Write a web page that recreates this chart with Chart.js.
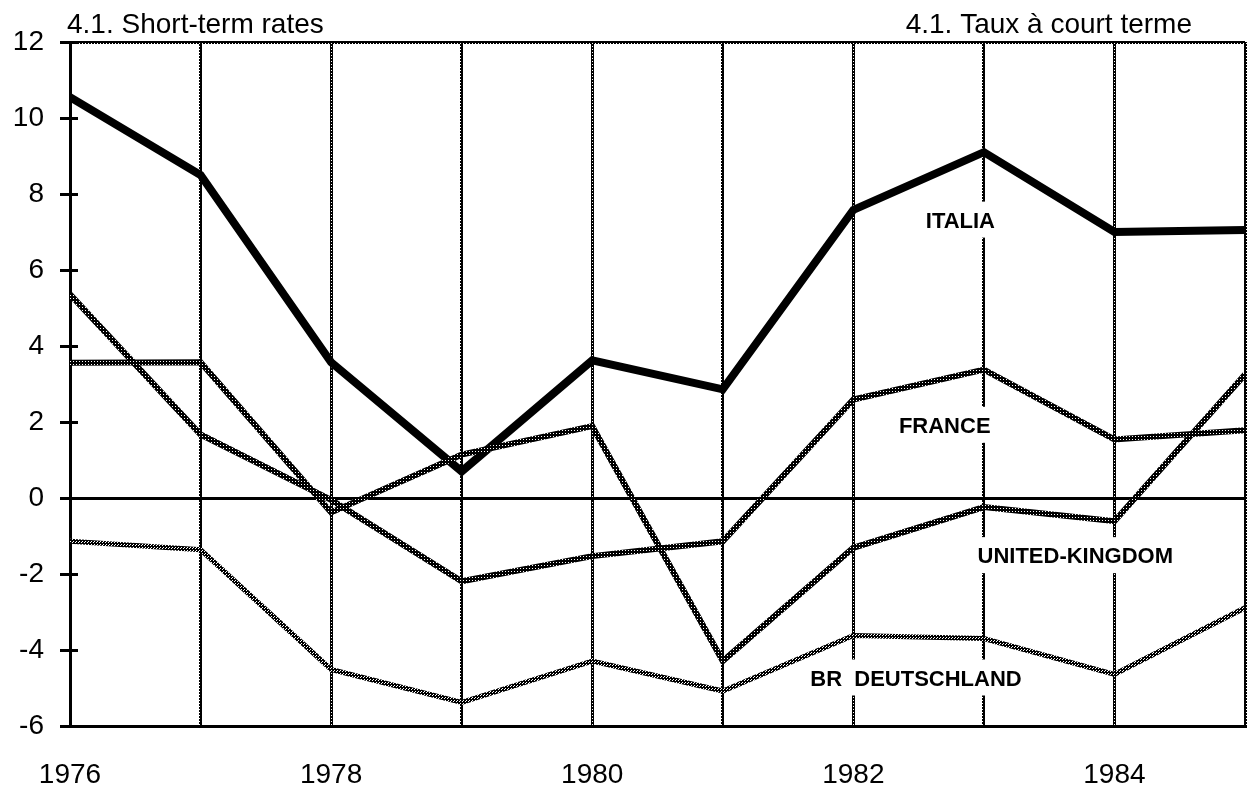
<!DOCTYPE html>
<html>
<head>
<meta charset="utf-8">
<script src="https://cdn.jsdelivr.net/npm/chart.js@4.4.1/dist/chart.umd.min.js"></script>
<style>
html,body{margin:0;padding:0;background:#fff;}
canvas{display:block;}
</style>
</head>
<body>
<canvas id="c" width="1248" height="792"></canvas>
<script>
// ---- data ----
const years = [1976, 1977, 1978, 1979, 1980, 1981, 1982, 1983, 1984, 1985];
const italia = [10.55, 8.5, 3.57, 0.7, 3.62, 2.86, 7.58, 9.1, 7.0, 7.05];
const france = [5.36, 1.67, -0.05, -2.19, -1.53, -1.14, 2.59, 3.38, 1.54, 1.78];
const uk = [3.56, 3.57, -0.38, 1.14, 1.89, -4.29, -1.31, -0.24, -0.61, 3.25];
const deutschland = [-1.14, -1.36, -4.51, -5.38, -4.29, -5.08, -3.62, -3.7, -4.64, -2.89];
const yTicks = [-6, -4, -2, 0, 2, 4, 6, 8, 10, 12];
const xTickLabels = [1976, 1978, 1980, 1982, 1984];
const titleLeft = '4.1. Short-term rates';
const titleRight = '4.1. Taux à court terme';
const seriesLabels = [
  {text: 'ITALIA', x: 1983 - 0.18, y: 7.3},
  {text: 'FRANCE', x: 1982 + 0.7, y: 1.9},
  {text: 'UNITED-KINGDOM', x: 1983 + 0.7, y: -1.53},
  {text: 'BR  DEUTSCHLAND', x: 1982 + 0.48, y: -4.75}
];

const FONT = '"Liberation Sans", Arial, Helvetica, sans-serif';

function makePattern(size, on) {
  const t = document.createElement('canvas');
  t.width = size; t.height = size;
  const g = t.getContext('2d');
  g.fillStyle = '#fff';
  g.fillRect(0, 0, size, size);
  g.fillStyle = '#000';
  for (const [px, py] of on) g.fillRect(px, py, 1, 1);
  return document.getElementById('c').getContext('2d').createPattern(t, 'repeat');
}
// dark rope-like texture (mostly black with white specks)
const darkPat = makePattern(3, [[0,0],[1,0],[2,0],[0,1],[2,1],[0,2],[1,2],[2,2]]);
const midPat = makePattern(3, [[0,0],[1,0],[0,1],[2,1],[1,2],[2,2],[2,0]]);
// grid dotted texture
const gridPat = makePattern(2, [[0,0],[1,1],[1,0]]);

const decor = {
  id: 'decor',
  afterDraw(chart) {
    const ctx = chart.ctx;
    const xs = chart.scales.x, ys = chart.scales.y;
    ctx.save();
    // crossing tick marks on the left axis
    ctx.strokeStyle = '#000';
    ctx.lineWidth = 3;
    for (const v of yTicks) {
      const py = Math.round(ys.getPixelForValue(v)) + 0.5;
      ctx.beginPath();
      ctx.moveTo(xs.left - 10, py);
      ctx.lineTo(xs.left + 8, py);
      ctx.stroke();
    }
    // titles
    ctx.fillStyle = '#000';
    ctx.font = '28px ' + FONT;
    ctx.textBaseline = 'alphabetic';
    ctx.textAlign = 'left';
    ctx.fillText(titleLeft, 67, 33);
    ctx.textAlign = 'right';
    ctx.fillText(titleRight, 1192, 33);
    // series labels with white boxes
    ctx.font = 'bold 22px ' + FONT;
    ctx.textAlign = 'center';
    ctx.textBaseline = 'middle';
    for (const l of seriesLabels) {
      const px = xs.getPixelForValue(l.x);
      const py = ys.getPixelForValue(l.y);
      const w = ctx.measureText(l.text).width;
      ctx.fillStyle = '#fff';
      ctx.fillRect(px - w / 2 - 4, py - 19, w + 8, 36);
      ctx.fillStyle = '#000';
      ctx.fillText(l.text, px, py + 1);
    }
    ctx.restore();
  }
};

function ds(label, data, color, width) {
  return {
    label, data: years.map((x, i) => ({x, y: data[i]})),
    borderColor: color, borderWidth: width, pointRadius: 0,
    tension: 0, fill: false, borderJoinStyle: 'miter', borderCapStyle: 'butt'
  };
}

new Chart(document.getElementById('c'), {
  type: 'line',
  data: {
    datasets: [
      ds('BR DEUTSCHLAND', deutschland, midPat, 5),
      ds('UNITED-KINGDOM', uk, darkPat, 6),
      ds('FRANCE', france, darkPat, 6),
      ds('ITALIA', italia, '#000', 8)
    ]
  },
  options: {
    responsive: false,
    animation: false,
    devicePixelRatio: 1,
    layout: {padding: {top: 42, right: 3, left: 0, bottom: 0}},
    plugins: {legend: {display: false}, tooltip: {enabled: false}},
    scales: {
      x: {
        type: 'linear', min: 1976, max: 1985,
        afterFit(s) { s.height = 66; s.paddingLeft = 0; s.paddingRight = 0; },
        ticks: {
          stepSize: 1, autoSkip: false, maxRotation: 0, padding: 32,
          color: '#000', font: {family: FONT, size: 28},
          callback: v => xTickLabels.includes(v) ? String(v) : ''
        },
        grid: {color: darkPat, lineWidth: 3, drawTicks: false},
        border: {display: true, color: '#000', width: 3}
      },
      y: {
        min: -6, max: 12,
        afterFit(s) { s.width = 70; s.paddingTop = 0; s.paddingBottom = 0; },
        afterBuildTicks(s) { s.ticks = yTicks.map(v => ({value: v})); },
        ticks: {
          padding: 26, color: '#000', font: {family: FONT, size: 28},
          callback: v => String(v)
        },
        grid: {
          drawTicks: false,
          color: c => c.tick && c.tick.value === 0 ? '#000' : (c.tick && c.tick.value === 12 ? darkPat : 'rgba(0,0,0,0)'),
          lineWidth: c => c.tick && c.tick.value === 0 ? 3 : 3
        },
        border: {display: true, color: '#000', width: 3}
      }
    }
  },
  plugins: [decor]
});
</script>
</body>
</html>
